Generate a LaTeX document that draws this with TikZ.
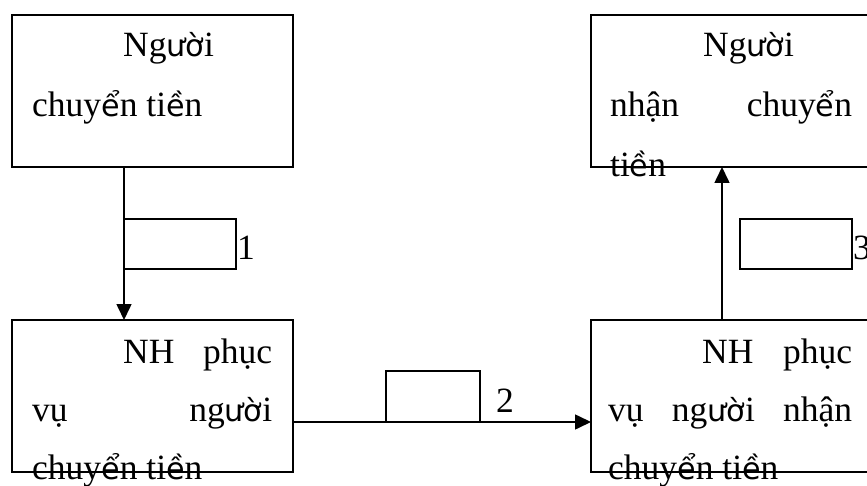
\documentclass[tikz,border=0pt]{standalone}
\usepackage{fontspec}
\setmainfont{Liberation Serif}
\newfontfamily\fbfont[Scale=0.85]{DejaVu Sans}
\usetikzlibrary{arrows.meta}
\newcommand\fb[1]{{\fbfont #1}}
\tikzset{
  box/.style={draw, line width=1.6pt, inner sep=0pt, outer sep=0pt, anchor=north west},
  tag/.style={draw, line width=1.6pt, inner sep=0pt, outer sep=0pt, anchor=north west,
              minimum width=112pt, minimum height=50pt},
  arr/.style={line width=1.6pt, -{Triangle[length=16pt,width=15pt]}},
  txt/.style={anchor=base west, inner sep=0pt, font=\fontsize{35.5}{42}\selectfont}
}
\begin{document}
\begin{tikzpicture}[x=1pt,y=-1pt]
  \clip (0,0) rectangle (867,486);
  \fill[white] (0,0) rectangle (867,486);

  % four main boxes
  \node[box, minimum width=281pt, minimum height=152pt] (tl) at (12,15) {};
  \node[box, minimum width=281pt, minimum height=152pt] (bl) at (12,320) {};
  \node[box, minimum width=300pt, minimum height=152pt] (tr) at (591,15) {};
  \node[box, minimum width=300pt, minimum height=152pt] (br) at (591,320) {};

  % small label boxes
  \node[tag] (b1) at (124,219) {};
  \node[tag, minimum width=94pt, minimum height=51pt] (b2) at (386,371) {};
  \node[tag] (b3) at (740,219) {};
  \coordinate (a3) at (722,0);

  % connectors
  \draw[arr] (b1.west |- tl.south) -- (b1.west |- bl.north);
  \draw[arr] (b2.south -| bl.east) -- (b2.south -| br.west);
  \draw[arr] (a3 |- br.north) -- (a3 |- tr.south);

  % numbers
  \node[txt] (n1) at (237,260) {1};
  \node[txt] (n2) at (496,412) {2};
  \node[txt] (n3) at (853,260) {3};

  % text of the top left box
  \node[txt] (t1a) at (123,57) {Ng\fb{ườ}i};
  \node[txt] (t1b) at (32,117) {chuy\fb{ể}n ti\fb{ề}n};

  % text of the top right box
  \node[txt] (t2a) at (703,57) {Ng\fb{ườ}i};
  \node[txt] (t2b) at (610,117) {\hbox to 242pt{nhận\hfill chuy\fb{ể}n}};
  \node[txt] (t2c) at (610,177) {ti\fb{ề}n};

  % text of the bottom left box
  \node[txt] (t3a) at (123,363) {\hbox to 149pt{NH\hfill phục}};
  \node[txt] (t3b) at (32,421) {\hbox to 240pt{vụ\hfill ng\fb{ườ}i}};
  \node[txt] (t3c) at (32,479) {chuy\fb{ể}n ti\fb{ề}n};

  % text of the bottom right box
  \node[txt] (t4a) at (702,363) {\hbox to 150pt{NH\hfill phục}};
  \node[txt] (t4b) at (608,421) {\hbox to 244pt{vụ\hfill ng\fb{ườ}i\hfill nhận}};
  \node[txt] (t4c) at (608,479) {chuy\fb{ể}n ti\fb{ề}n};
\end{tikzpicture}
\end{document}
